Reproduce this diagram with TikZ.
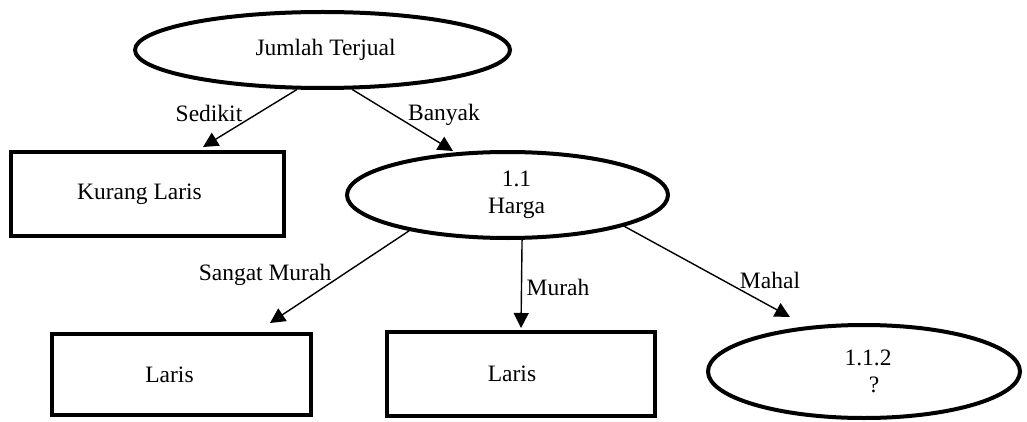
\documentclass[tikz,border=0pt]{standalone}
\usepackage{fontspec}
\setmainfont{Liberation Serif}
\usetikzlibrary{shapes.geometric,arrows.meta}
\tikzset{
  oval/.style={ellipse,draw,line width=4pt,inner sep=0pt,align=center},
  box/.style={rectangle,draw,line width=4pt,inner sep=0pt,align=center},
  arr/.style={line width=1.4pt,-{Triangle[length=15pt,width=15pt]}},
  lbl/.style={inner sep=0pt}
}
\begin{document}
\begin{tikzpicture}[x=1pt,y=-1pt,font=\fontsize{23.5}{27}\selectfont]
\useasboundingbox[fill=white] (0,0) rectangle (1027,422);
% nodes
\node[oval,minimum width=375pt,minimum height=76pt] (top) at (322.5,50) {\hspace*{6pt}Jumlah Terjual};
\node[box,minimum width=273pt,minimum height=84pt] (kl) at (147.5,194) {Kurang Laris\hspace*{16pt}};
\node[oval,minimum width=321pt,minimum height=86pt] (harga) at (507.5,195) {\hspace*{18pt}1.1\\\hspace*{18pt}Harga};
\node[box,minimum width=259pt,minimum height=81pt] (l1) at (181.5,374.5) {Laris\hspace*{24pt}};
\node[box,minimum width=268pt,minimum height=84pt] (l2) at (521,374) {Laris\hspace*{18pt}};
\node[oval,minimum width=312pt,minimum height=93pt] (q) at (864,371.5) {\hspace*{8pt}1.1.2\\\hspace*{20pt}?};
% arrow tips
\coordinate (t1) at (203,147);
\coordinate (t2) at (453,151);
\coordinate (t3) at (270,323);
\coordinate (t4) at (521,328);
\coordinate (t5) at (790,317);
% connectors
\draw[arr] (top.237.5) -- (t1);
\draw[arr] (top.307.3) -- (t2);
\draw[arr] (harga.200.7) -- (t3);
\draw[arr] (harga.288) -- (t4);
\draw[arr] (harga.345.3) -- (t5);
% labels
\node[lbl] (ls) at (209,113) {Sedikit};
\node[lbl] (lb) at (444,115) {Banyak};
\node[lbl] (lsm) at (265,275) {Sangat Murah};
\node[lbl] (lm) at (558,287) {Murah};
\node[lbl] (lh) at (770,280) {Mahal};
\end{tikzpicture}
\end{document}
